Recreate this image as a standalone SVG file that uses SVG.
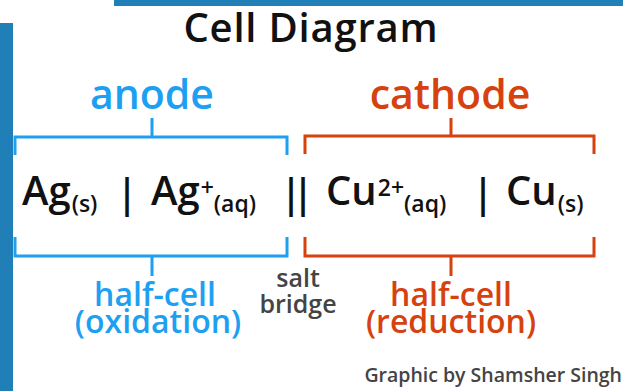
<svg xmlns="http://www.w3.org/2000/svg" width="623" height="391" viewBox="0 0 623 391">
<style>
text{font-family:"Open Sans","Noto Sans","DejaVu Sans",sans-serif;font-weight:600;}
.b{fill:#1ea0f2;}
.o{fill:#d6420f;}
.g{fill:#444;}
.sb{fill:none;stroke:#1ea0f2;stroke-width:3;}
.so{fill:none;stroke:#d6420f;stroke-width:3;}
.f{fill:#111;font-size:40px;}
.sub{font-size:23px;}
</style>
<rect x="114" y="0" width="509" height="6" fill="#1f7fb6"/>
<rect x="0" y="23" width="13" height="368" fill="#1f7fb6"/>
<g id="title"><text x="311" y="42" font-size="40" letter-spacing="0.8" fill="#111" text-anchor="middle">Cell Diagram</text></g>
<g id="anode"><text class="b" x="152" y="109" font-size="41" text-anchor="middle">anode</text></g>
<g id="cathode"><text class="o" x="450" y="109" font-size="41" text-anchor="middle">cathode</text></g>
<g id="connectors">
<path class="sb" d="M152 118V137M15 155V137H287V155M15 237V256H287V237M152 256V276"/>
<path class="so" d="M451 118V136M305 154V136H594V154M305 237V256H594V237M451 256V276"/>
</g>
<g id="formula">
<text class="f" x="22" y="205">Ag<tspan class="sub" dx="1" dy="7">(s)</tspan></text>
<text class="f" x="116" y="207">|</text>
<text class="f" x="151" y="205">Ag<tspan class="sub" dx="1" dy="-9">+</tspan><tspan class="sub" dy="16">(aq)</tspan></text>
<text class="f" x="280" y="207" letter-spacing="-10">||</text>
<text class="f" x="326" y="205">Cu<tspan class="sub" dx="1" dy="-9">2+</tspan><tspan class="sub" dy="16">(aq)</tspan></text>
<text class="f" x="472" y="207">|</text>
<text class="f" x="506" y="205">Cu<tspan class="sub" dx="1" dy="7">(s)</tspan></text>
</g>
<g id="anode-halfcell"><text class="b" font-size="32" text-anchor="middle"><tspan x="155" y="306">half-cell</tspan><tspan x="158" y="333">(oxidation)</tspan></text></g>
<g id="salt-bridge"><text class="g" font-size="25" text-anchor="middle"><tspan x="298" y="287">salt</tspan><tspan x="298" y="313">bridge</tspan></text></g>
<g id="cathode-halfcell"><text class="o" font-size="32" text-anchor="middle"><tspan x="451" y="306">half-cell</tspan><tspan x="451" y="333">(reduction)</tspan></text></g>
<g id="credit"><text class="g" x="622" y="382" font-size="19.5" text-anchor="end">Graphic by Shamsher Singh</text></g>
</svg>
